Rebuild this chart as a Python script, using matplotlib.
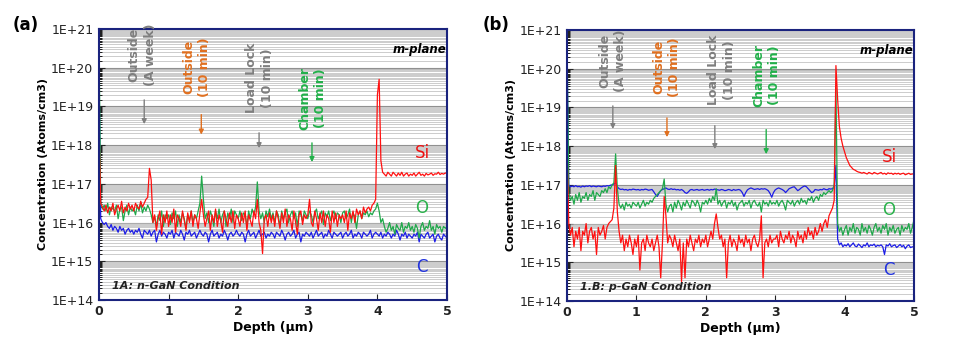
import numpy as np
import matplotlib.pyplot as plt
from matplotlib.ticker import LogLocator, NullFormatter

# depth grid (um), one value every 0.025 um
depth = np.linspace(0, 5, 201)

# ---- panel (a): n-GaN, log10(concentration) ----
si_a = [18.5, 16.5, 16.4, 16.3, 16.45, 16.25, 16.4, 16.3, 16.5, 16.2, 16.35, 16.45, 16.3, 16.55, 16.25, 16.4, 16.3, 16.5, 16.35, 16.45,
        16.3, 16.5, 16.4, 16.35, 16.55, 16.4, 16.5, 16.6, 16.65, 17.4, 17.1, 16.0, 16.2, 15.8, 16.1, 16.3, 15.7, 16.2, 16.0, 16.3,
        15.9, 16.2, 16.0, 16.35, 15.75, 16.2, 16.1, 15.9, 16.3, 16.05, 15.8, 16.25, 16.0, 16.3, 15.9, 16.2, 16.1, 15.85, 16.25, 16.6,
        16.2, 15.9, 16.1, 16.3, 15.8, 16.2, 16.0, 16.35, 15.9, 16.2, 16.05, 15.75, 16.3, 16.1, 15.9, 16.25, 16.0, 16.3, 15.85, 16.2,
        16.1, 15.9, 16.25, 16.0, 16.3, 15.8, 16.2, 16.05, 15.9, 16.3, 16.1, 16.6, 16.0, 15.8, 15.2, 16.1, 16.2, 15.9, 16.25, 16.0,
        16.2, 15.9, 16.3, 16.1, 15.85, 16.25, 16.0, 16.35, 15.9, 16.2, 16.1, 15.8, 16.3, 16.0, 15.7, 16.2, 16.3, 15.95, 16.2, 16.1,
        16.2, 16.6, 16.0, 15.9, 16.3, 16.1, 15.8, 16.25, 16.0, 16.3, 15.9, 16.2, 16.1, 15.75, 16.3, 16.0, 16.25, 15.9, 16.2, 16.1,
        16.2, 16.0, 16.3, 15.8, 16.25, 16.1, 16.3, 16.0, 16.35, 16.2, 16.3, 16.1, 16.4, 16.25, 16.35, 16.4, 16.3, 16.45, 16.5, 16.6,
        19.3, 19.7, 17.6, 17.3, 17.25, 17.2, 17.3, 17.25, 17.2, 17.3, 17.25, 17.2, 17.28, 17.22, 17.3, 17.2, 17.25, 17.28, 17.2, 17.25,
        17.22, 17.28, 17.2, 17.25, 17.3, 17.22, 17.25, 17.2, 17.27, 17.23, 17.25, 17.28, 17.22, 17.26, 17.25, 17.3, 17.24, 17.27, 17.25, 17.28,
        17.27]

o_a = [20.7, 16.5, 16.35, 16.45, 16.3, 16.5, 16.2, 16.4, 16.35, 16.3, 16.45, 16.1, 16.35, 16.4, 16.05, 16.3, 16.45, 16.2, 16.4, 16.3,
       16.35, 16.2, 16.45, 16.3, 16.5, 16.25, 16.4, 16.3, 16.45, 16.35, 16.2, 16.0, 16.15, 15.9, 16.2, 16.05, 16.3, 15.9, 16.2, 16.1,
       16.2, 15.95, 16.25, 16.1, 16.3, 15.9, 16.2, 16.0, 16.25, 16.1, 15.85, 16.2, 16.05, 16.3, 16.0, 16.2, 16.1, 16.3, 16.5, 17.2,
       16.6, 16.1, 16.25, 16.0, 16.3, 16.15, 15.9, 16.3, 16.1, 16.35, 16.0, 16.2, 16.3, 15.9, 16.25, 16.1, 16.35, 16.0, 16.3, 16.2,
       16.1, 16.3, 16.05, 16.25, 16.2, 15.9, 16.3, 16.1, 16.35, 16.2, 16.4, 17.05, 16.3, 16.1, 16.25, 16.0, 16.3, 16.15, 16.35, 16.1,
       16.25, 16.0, 16.3, 16.2, 15.9, 16.3, 16.1, 16.25, 16.35, 16.0, 16.2, 16.3, 16.1, 16.25, 15.9, 16.3, 16.2, 16.05, 16.3, 16.2,
       16.1, 16.3, 16.2, 16.0, 16.25, 16.35, 16.1, 16.2, 16.3, 15.95, 16.25, 16.15, 16.3, 16.05, 16.2, 16.3, 16.1, 16.25, 16.2, 16.0,
       16.25, 16.3, 16.1, 16.2, 16.35, 16.0, 16.25, 16.15, 15.85, 16.2, 16.3, 16.1, 16.25, 16.2, 16.3, 16.15, 16.25, 16.2, 16.3, 16.35,
       16.5, 16.3, 16.0, 16.1, 15.9, 15.75, 15.85, 16.0, 15.8, 15.9, 15.7, 15.95, 15.85, 15.8, 16.0, 15.75, 15.9, 15.85, 16.0, 15.8,
       15.9, 15.75, 15.95, 15.85, 15.6, 15.9, 16.0, 15.8, 15.9, 15.85, 16.05, 15.8, 15.9, 15.7, 15.95, 15.85, 15.9, 15.75, 15.9, 15.85,
       15.9]

c_a = [20.0, 16.1, 16.0, 15.95, 16.0, 15.9, 15.85, 15.95, 15.8, 15.9, 15.85, 15.75, 15.9, 15.8, 15.85, 15.7, 15.8, 15.85, 15.75, 15.8,
       15.7, 15.8, 15.75, 15.85, 15.7, 15.6, 15.8, 15.75, 15.7, 15.8, 15.65, 15.75, 15.8, 15.5, 15.7, 15.8, 15.65, 15.75, 15.7, 15.6,
       15.75, 15.7, 15.8, 15.6, 15.75, 15.7, 15.65, 15.8, 15.7, 15.55, 15.75, 15.7, 15.8, 15.65, 15.7, 15.75, 15.6, 15.7, 15.8, 15.7,
       15.65, 15.75, 15.7, 15.5, 15.7, 15.8, 15.65, 15.7, 15.75, 15.6, 15.7, 15.65, 15.8, 15.7, 15.55, 15.7, 15.75, 15.65, 15.7, 15.8,
       15.7, 15.65, 15.75, 15.7, 15.5, 15.7, 15.8, 15.65, 15.7, 15.75, 15.6, 15.7, 15.8, 15.65, 15.7, 15.75, 15.6, 15.7, 15.65, 15.75,
       15.7, 15.6, 15.75, 15.7, 15.65, 15.8, 15.7, 15.55, 15.7, 15.75, 15.65, 15.7, 15.8, 15.6, 15.7, 15.75, 15.5, 15.7, 15.65, 15.75,
       15.7, 15.65, 15.75, 15.6, 15.7, 15.8, 15.65, 15.7, 15.75, 15.6, 15.7, 15.65, 15.8, 15.7, 15.6, 15.75, 15.7, 15.65, 15.7, 15.75,
       15.6, 15.7, 15.75, 15.65, 15.7, 15.8, 15.6, 15.7, 15.65, 15.75, 15.7, 15.6, 15.75, 15.7, 15.65, 15.7, 15.8, 15.6, 15.7, 15.75,
       15.7, 15.65, 15.75, 15.6, 15.7, 15.65, 15.75, 15.7, 15.6, 15.7, 15.65, 15.8, 15.7, 15.55, 15.7, 15.65, 15.75, 15.6, 15.7, 15.65,
       15.6, 15.7, 15.65, 15.75, 15.5, 15.7, 15.65, 15.6, 15.7, 15.75, 15.6, 15.65, 15.7, 15.5, 15.65, 15.7, 15.6, 15.55, 15.7, 15.65,
       15.6]

# ---- panel (b): p-GaN ----
si_b = [18.0, 16.0, 15.7, 15.9, 15.4, 15.8, 15.6, 15.9, 15.3, 15.8, 15.7, 16.0, 15.5, 15.8, 15.9, 15.6, 15.8, 15.2, 15.9, 15.7,
        15.8, 15.95, 15.6, 15.9, 16.0, 16.05, 16.1, 16.4, 17.5, 16.3, 15.8, 15.5, 15.7, 15.3, 15.6, 15.4, 15.7, 15.5, 15.2, 15.6,
        15.4, 15.7, 14.8, 15.5, 15.6, 15.3, 15.7, 15.5, 15.4, 15.6, 15.3, 15.5, 15.7, 15.4, 14.6, 15.5, 16.7, 16.2, 15.5, 15.7,
        15.6, 15.4, 15.7, 15.5, 15.3, 15.6, 14.5, 15.5, 14.6, 15.6, 15.4, 15.7, 15.5, 15.3, 15.6, 15.5, 15.7, 15.4, 15.6, 15.5,
        15.7, 15.4, 15.6, 15.8, 15.6, 16.0, 16.25, 15.9, 15.6, 15.7, 15.4, 15.6, 14.6, 15.5, 15.7, 15.4, 15.6, 15.5, 15.3, 15.7,
        15.5, 15.6, 15.4, 15.7, 15.5, 15.6, 15.3, 15.6, 15.7, 15.5, 15.4, 15.6, 16.2, 14.6, 15.5, 15.6, 15.4, 15.7, 15.5, 15.6,
        15.6, 15.7, 15.4, 15.8, 15.6, 15.5, 15.7, 15.6, 15.8, 15.5, 15.7, 15.6, 15.4, 15.8, 15.6, 15.7, 15.5, 15.8, 15.6, 15.9,
        15.7, 15.8, 15.6, 15.9, 15.7, 15.8, 16.0, 15.8, 16.0, 16.1, 15.9, 16.2, 16.3, 16.4, 16.6, 20.08, 19.2, 18.5, 18.2, 18.0,
        17.85, 17.7, 17.6, 17.5, 17.45, 17.4, 17.38, 17.35, 17.33, 17.32, 17.3, 17.32, 17.3, 17.28, 17.32, 17.3, 17.28, 17.32, 17.3, 17.28,
        17.3, 17.32, 17.28, 17.3, 17.27, 17.31, 17.29, 17.3, 17.27, 17.3, 17.28, 17.3, 17.27, 17.29, 17.3, 17.26, 17.28, 17.3, 17.27, 17.28,
        17.28]

o_b = [20.7, 16.8, 16.6, 16.7, 16.5, 16.75, 16.6, 16.8, 16.55, 16.7, 16.65, 16.8, 16.6, 16.75, 16.7, 16.85, 16.6, 16.8, 16.75, 16.7,
       16.85, 16.8, 16.9, 16.8, 16.95, 16.9, 17.0, 17.05, 17.8, 16.9, 16.5, 16.4, 16.5, 16.35, 16.55, 16.45, 16.5, 16.4, 16.55, 16.5,
       16.45, 16.55, 16.4, 16.5, 16.6, 16.45, 16.55, 16.5, 16.6, 16.55, 16.65, 16.7, 16.75, 16.8, 16.85, 16.9, 17.15, 16.5, 16.3, 16.45,
       16.5, 16.3, 16.55, 16.4, 16.6, 16.5, 16.35, 16.55, 16.45, 16.6, 16.5, 16.4, 16.6, 16.55, 16.45, 16.6, 16.5, 16.3, 16.55, 16.5,
       16.6, 16.5, 16.65, 16.55, 16.7, 16.6, 16.9, 16.5, 16.6, 16.45, 16.55, 16.6, 16.4, 16.55, 16.5, 16.6, 16.45, 16.55, 16.35, 16.5,
       16.55, 16.6, 16.45, 16.55, 16.5, 16.6, 16.4, 16.55, 16.6, 16.5, 16.45, 16.55, 16.3, 16.6, 16.5, 16.55, 16.45, 16.6, 16.5, 16.55,
       16.5, 16.6, 16.45, 16.55, 16.6, 16.5, 16.35, 16.6, 16.55, 16.5, 16.6, 16.45, 16.55, 16.6, 16.5, 16.65, 16.55, 16.6, 16.5, 16.65,
       16.6, 16.7, 16.55, 16.65, 16.7, 16.6, 16.75, 16.7, 16.8, 16.75, 16.8, 16.85, 16.8, 16.85, 17.0, 19.5, 16.0, 15.8, 15.9, 15.7,
       15.85, 15.95, 15.7, 15.9, 15.8, 16.0, 15.75, 15.9, 15.85, 15.7, 16.0, 15.8, 15.9, 15.75, 15.95, 15.85, 15.7, 15.9, 16.0, 15.8,
       15.9, 15.75, 15.95, 15.85, 16.0, 15.7, 15.9, 15.8, 15.95, 15.75, 15.85, 15.9, 15.7, 15.95, 15.8, 15.9, 15.85, 16.0, 15.75, 15.9,
       16.1]

c_b = [20.5, 17.0, 16.95, 16.97, 16.95, 16.98, 16.95, 16.96, 16.94, 16.97, 16.95, 16.97, 16.96, 16.98, 16.95, 16.97, 16.96, 16.95, 16.97, 16.96,
       16.95, 16.97, 16.96, 16.98, 16.97, 16.99, 17.0, 17.02, 17.05, 16.95, 16.9, 16.88, 16.89, 16.87, 16.88, 16.86, 16.88, 16.87, 16.89, 16.88,
       16.87, 16.88, 16.86, 16.88, 16.87, 16.89, 16.88, 16.86, 16.87, 16.88, 16.82, 16.75, 16.7, 16.78, 16.85, 16.88, 16.9, 16.92, 16.89, 16.88,
       16.9, 16.88, 16.89, 16.87, 16.88, 16.86, 16.88, 16.85, 16.8, 16.78, 16.82, 16.87, 16.88, 16.86, 16.87, 16.88, 16.86, 16.87, 16.88, 16.86,
       16.87, 16.88, 16.86, 16.88, 16.87, 16.89, 16.88, 16.87, 16.86, 16.88, 16.87, 16.85, 16.86, 16.88, 16.87, 16.85, 16.88, 16.86, 16.87, 16.88,
       16.86, 16.8, 16.7, 16.8, 16.87, 16.9, 16.92, 16.9, 16.88, 16.89, 16.9, 16.88, 16.9, 16.89, 16.9, 16.88, 16.85, 16.78, 16.68, 16.8,
       16.87, 16.9, 16.92, 16.9, 16.88, 16.85, 16.8, 16.85, 16.9, 16.92, 16.94, 16.95, 16.9, 16.85, 16.88, 16.92, 16.95, 16.97, 16.95, 16.9,
       16.85, 16.8, 16.82, 16.88, 16.87, 16.86, 16.88, 16.87, 16.9, 16.88, 16.87, 16.9, 16.89, 16.9, 16.95, 17.5, 15.6, 15.45, 15.5, 15.4,
       15.45, 15.42, 15.48, 15.4, 15.45, 15.5, 15.42, 15.4, 15.47, 15.43, 15.38, 15.45, 15.42, 15.5, 15.4, 15.45, 15.43, 15.47, 15.4, 15.44,
       15.42, 15.45, 15.4, 15.2, 15.45, 15.42, 15.48, 15.4, 15.43, 15.45, 15.38, 15.42, 15.46, 15.4, 15.44, 15.35, 15.42, 15.45, 15.38, 15.4,
       15.4]

# annotations: (text, colour, x of text, log y of text bottom, x of arrow, log y arrow start, log y arrow end)
notes_a = [("Outside\n(A week)", "#7f7f7f", 0.62, 19.53, 0.65, 19.24, 18.47),
           ("Outside\n(10 min)", "#e07020", 1.40, 19.24, 1.47, 18.86, 18.20),
           ("Load Lock\n(10 min)", "#7f7f7f", 2.31, 18.83, 2.30, 18.39, 17.85),
           ("Chamber\n(10 min)", "#22b04a", 3.07, 18.39, 3.06, 18.13, 17.49)]
notes_b = [("Outside\n(A week)", "#7f7f7f", 0.66, 19.40, 0.66, 19.11, 18.37),
           ("Outside\n(10 min)", "#e07020", 1.44, 19.27, 1.44, 18.80, 18.16),
           ("Load Lock\n(10 min)", "#7f7f7f", 2.23, 19.06, 2.13, 18.60, 17.85),
           ("Chamber\n(10 min)", "#22b04a", 2.88, 19.01, 2.87, 18.50, 17.72)]

ytick_labels = ["1E+14", "1E+15", "1E+16", "1E+17", "1E+18", "1E+19", "1E+20", "1E+21"]

fig = plt.figure(figsize=(9.79, 3.52), dpi=100)
ax_a = fig.add_axes([0.1011, 0.1477, 0.3555, 0.770])
ax_b = fig.add_axes([0.5792, 0.1449, 0.3544, 0.770])


def draw_panel(ax, si, o, c, notes, cond, lab_y):
    ax.set_yscale('log')
    ax.set_xlim(0, 5)
    ax.set_ylim(1e14, 1e21)
    # dense grey horizontal grid
    ax.yaxis.set_minor_locator(LogLocator(base=10, subs=np.arange(1.0, 10.0, 0.5), numticks=50))
    ax.yaxis.set_minor_formatter(NullFormatter())
    ax.grid(True, which='major', axis='y', color='#909090', lw=0.8)
    ax.grid(True, which='minor', axis='y', color='#b8b8b8', lw=0.5)
    ax.set_axisbelow(True)

    ax.plot(depth, 10 ** np.array(c), color='#1c1ce6', lw=0.9)
    ax.plot(depth, 10 ** np.array(o), color='#1fa84a', lw=0.9)
    ax.plot(depth, 10 ** np.array(si), color='#ff1010', lw=0.9)

    for txt, col, tx, ty, axx, y0, y1 in notes:
        ax.text(tx, 10 ** ty, txt, rotation=90, ha='center', va='bottom', color=col,
                fontsize=9, fontweight='bold', linespacing=1.3)
        ax.annotate('', xy=(axx, 10 ** y1), xytext=(axx, 10 ** y0),
                    arrowprops=dict(arrowstyle='-|>', color=col, lw=1.0, mutation_scale=7))

    ax.text(4.99, 10 ** 20.46, "m-plane", ha='right', va='center', fontsize=8.5,
            fontweight='bold', fontstyle='italic', color='black')
    ax.text(4.64, 10 ** lab_y[0], "Si", ha='center', va='center', fontsize=12, color='#ee1111')
    ax.text(4.64, 10 ** lab_y[1], "O", ha='center', va='center', fontsize=12, color='#2bb24c')
    ax.text(4.64, 10 ** lab_y[2], "C", ha='center', va='center', fontsize=12, color='#2233dd')
    ax.text(0.18, 10 ** 14.36, cond, ha='left', va='center', fontsize=8,
            fontweight='bold', fontstyle='italic', color='#222222')

    ax.set_yticks([10.0 ** k for k in range(14, 22)])
    ax.set_yticklabels(ytick_labels)
    ax.set_xticks([0, 1, 2, 3, 4, 5])
    ax.tick_params(axis='both', which='major', direction='in', labelsize=9, length=4,
                   colors='#222222')
    ax.tick_params(axis='y', which='minor', direction='in', length=2)
    ax.tick_params(axis='y', pad=4)
    for lbl in ax.get_xticklabels():
        lbl.set_fontweight('bold')
    for sp in ax.spines.values():
        sp.set_color('#1a237e')
        sp.set_linewidth(1.5)
    ax.set_xlabel("Depth (\u00b5m)", fontsize=9, fontweight='bold', labelpad=2)
    ax.set_ylabel("Concentration (Atoms/cm3)", fontsize=8, fontweight='bold', labelpad=2)


draw_panel(ax_a, si_a, o_a, c_a, notes_a, "1A: n-GaN Condition", (17.8, 16.37, 14.85))
draw_panel(ax_b, si_b, o_b, c_b, notes_b, "1.B: p-GaN Condition", (17.72, 16.35, 14.8))

fig.text(26 / 979, 1 - 25 / 352, "(a)", fontsize=12, fontweight='bold', ha='center', va='center')
fig.text(496 / 979, 1 - 25 / 352, "(b)", fontsize=12, fontweight='bold', ha='center', va='center')

plt.savefig('out.png', dpi=100)
